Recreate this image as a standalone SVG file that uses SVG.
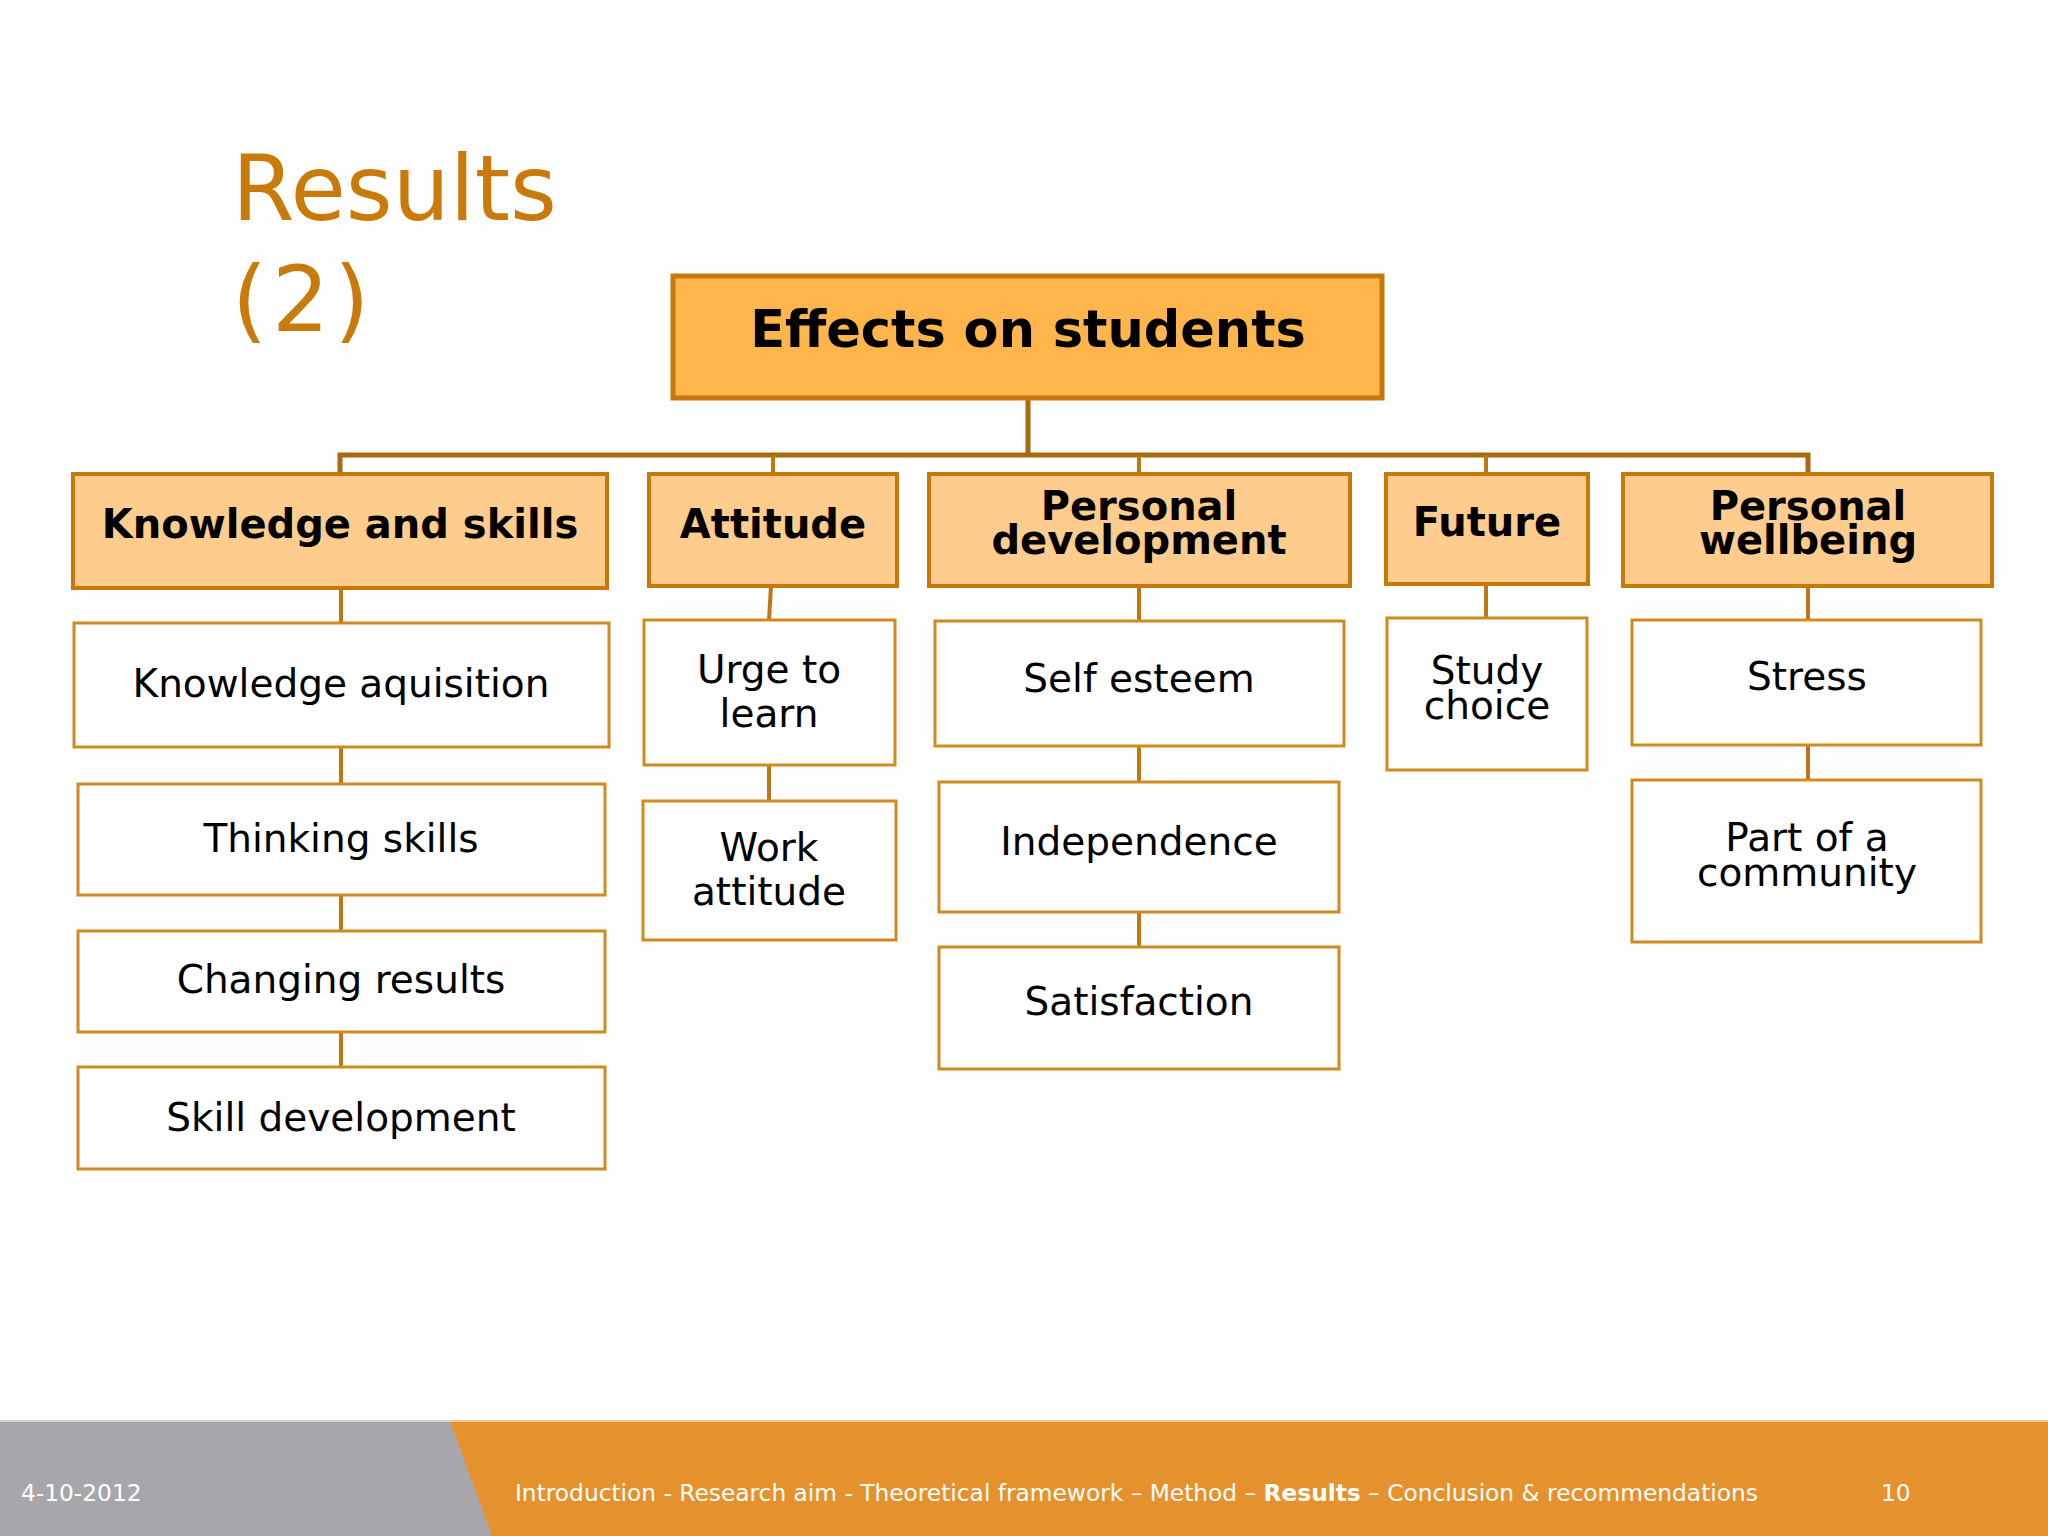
<svg xmlns="http://www.w3.org/2000/svg" width="2048" height="1536" viewBox="0 0 2048 1536">
<style>
.t{font-family:"DejaVu Sans",Verdana,sans-serif;fill:#000;text-anchor:middle}
.b{font-weight:bold}
.root{fill:#FDB54C;stroke:#C8780A;stroke-width:5}
.cat{fill:#FECC8C;stroke:#C8780A;stroke-width:4}
.leaf{fill:#FFFFFF;stroke:#D08A1E;stroke-width:3}
.ct{font-size:40px}
.lt{font-size:39px}
.main{stroke:#A8690F;stroke-width:5;fill:none}
.sub{stroke:#BE7812;stroke-width:4;fill:none}
.ft{font-family:"DejaVu Sans",Verdana,sans-serif;fill:#FFFFFF;font-size:23.3px}
</style>
<rect width="2048" height="1536" fill="#FEFEFE"/>
<g id="title">
<text x="232" y="220" font-family="DejaVu Sans,Verdana,sans-serif" font-size="90" fill="#C87A0A">Results</text>
<text x="232" y="331" font-family="DejaVu Sans,Verdana,sans-serif" font-size="90" fill="#C87A0A" letter-spacing="5">(2)</text>
</g>
<g id="connectors">
<polyline class="main" points="1028,399 1028,455"/>
<polyline class="main" points="340,474 340,455 1808,455 1808,474"/>
<line class="sub" x1="773" y1="455" x2="773" y2="474"/>
<line class="sub" x1="1139" y1="455" x2="1139" y2="474"/>
<line class="sub" x1="1486" y1="455" x2="1486" y2="474"/>
<line class="sub" x1="341" y1="588" x2="341" y2="623"/>
<line class="sub" x1="341" y1="747" x2="341" y2="784"/>
<line class="sub" x1="341" y1="895" x2="341" y2="931"/>
<line class="sub" x1="341" y1="1032" x2="341" y2="1067"/>
<line class="sub" x1="771" y1="586" x2="769" y2="620"/>
<line class="sub" x1="769" y1="765" x2="769" y2="801"/>
<line class="sub" x1="1139" y1="586" x2="1139" y2="621"/>
<line class="sub" x1="1139" y1="746" x2="1139" y2="782"/>
<line class="sub" x1="1139" y1="912" x2="1139" y2="947"/>
<line class="sub" x1="1486" y1="584" x2="1486" y2="618"/>
<line class="sub" x1="1808" y1="586" x2="1808" y2="620"/>
<line class="sub" x1="1808" y1="745" x2="1808" y2="780"/>
</g>
<g id="root">
<rect class="root" x="673" y="276" width="709" height="122"/>
<text class="t b" x="1028" y="347" font-size="51">Effects on students</text>
</g>
<g id="cat-knowledge">
<rect class="cat" x="73" y="474" width="534" height="114"/>
<text class="t b ct" x="340" y="538">Knowledge and skills</text>
</g>
<g id="cat-attitude">
<rect class="cat" x="649" y="474" width="248" height="112"/>
<text class="t b ct" x="773" y="538">Attitude</text>
</g>
<g id="cat-personal-development">
<rect class="cat" x="929" y="474" width="421" height="112"/>
<text class="t b ct" x="1139" y="520">Personal</text>
<text class="t b ct" x="1139" y="554">development</text>
</g>
<g id="cat-future">
<rect class="cat" x="1386" y="474" width="202" height="110"/>
<text class="t b ct" x="1487" y="536">Future</text>
</g>
<g id="cat-personal-wellbeing">
<rect class="cat" x="1623" y="474" width="369" height="112"/>
<text class="t b ct" x="1808" y="520">Personal</text>
<text class="t b ct" x="1808" y="554">wellbeing</text>
</g>
<g id="leaf-knowledge-aquisition">
<rect class="leaf" x="74" y="623" width="535" height="124"/>
<text class="t lt" x="341" y="697">Knowledge aquisition</text>
</g>
<g id="leaf-thinking-skills">
<rect class="leaf" x="78" y="784" width="527" height="111"/>
<text class="t lt" x="341" y="852">Thinking skills</text>
</g>
<g id="leaf-changing-results">
<rect class="leaf" x="78" y="931" width="527" height="101"/>
<text class="t lt" x="341" y="993">Changing results</text>
</g>
<g id="leaf-skill-development">
<rect class="leaf" x="78" y="1067" width="527" height="102"/>
<text class="t lt" x="341" y="1131">Skill development</text>
</g>
<g id="leaf-urge-to-learn">
<rect class="leaf" x="644" y="620" width="251" height="145"/>
<text class="t lt" x="769" y="683">Urge to</text>
<text class="t lt" x="769" y="727">learn</text>
</g>
<g id="leaf-work-attitude">
<rect class="leaf" x="643" y="801" width="253" height="139"/>
<text class="t lt" x="769" y="861">Work</text>
<text class="t lt" x="769" y="905">attitude</text>
</g>
<g id="leaf-self-esteem">
<rect class="leaf" x="935" y="621" width="409" height="125"/>
<text class="t lt" x="1139" y="692">Self esteem</text>
</g>
<g id="leaf-independence">
<rect class="leaf" x="939" y="782" width="400" height="130"/>
<text class="t lt" x="1139" y="855">Independence</text>
</g>
<g id="leaf-satisfaction">
<rect class="leaf" x="939" y="947" width="400" height="122"/>
<text class="t lt" x="1139" y="1015">Satisfaction</text>
</g>
<g id="leaf-study-choice">
<rect class="leaf" x="1387" y="618" width="200" height="152"/>
<text class="t lt" x="1487" y="684">Study</text>
<text class="t lt" x="1487" y="719">choice</text>
</g>
<g id="leaf-stress">
<rect class="leaf" x="1632" y="620" width="349" height="125"/>
<text class="t lt" x="1807" y="690">Stress</text>
</g>
<g id="leaf-part-of-a-community">
<rect class="leaf" x="1632" y="780" width="349" height="162"/>
<text class="t lt" x="1807" y="851">Part of a</text>
<text class="t lt" x="1807" y="886">community</text>
</g>
<g id="footer">
<rect x="0" y="1421" width="2048" height="115" fill="#E5922E"/>
<polygon points="0,1421 450,1421 492,1536 0,1536" fill="#A7A7AB"/>
<line x1="0" y1="1421" x2="450" y2="1421" stroke="#D4D4D6" stroke-width="2"/>
<line x1="450" y1="1421" x2="2048" y2="1421" stroke="#F3C98A" stroke-width="2"/>
<text class="ft" x="21" y="1501">4-10-2012</text>
<text class="ft" x="515" y="1501">Introduction - Research aim - Theoretical framework – Method – <tspan font-weight="bold">Results</tspan> – Conclusion &amp; recommendations</text>
<text class="ft" x="1881" y="1501">10</text>
</g>
</svg>
